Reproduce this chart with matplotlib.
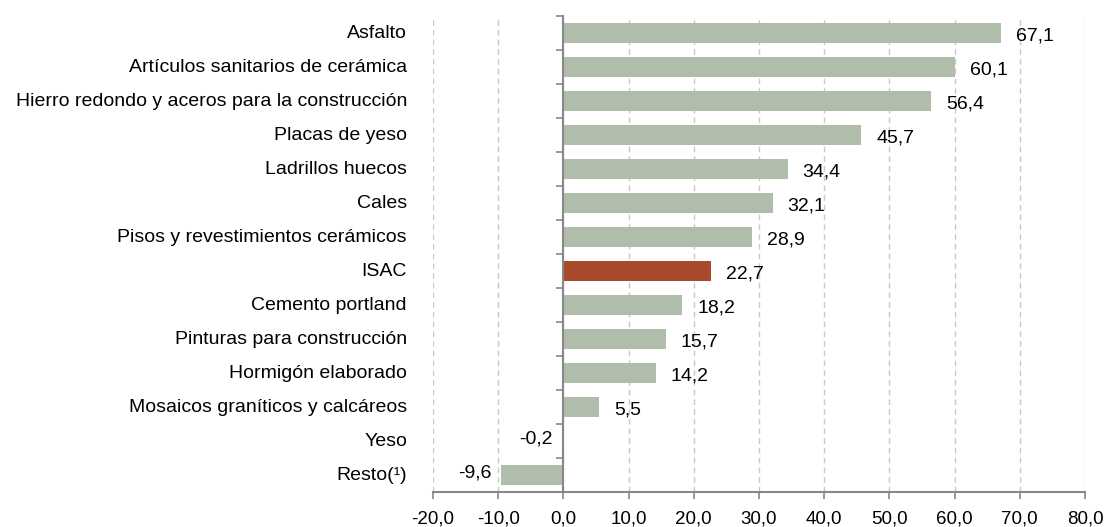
import matplotlib
matplotlib.use("Agg")
import matplotlib.pyplot as plt
from matplotlib.transforms import blended_transform_factory

categories = ["Asfalto", "Artículos sanitarios de cerámica",
              "Hierro redondo y aceros para la construcción", "Placas de yeso",
              "Ladrillos huecos", "Cales", "Pisos y revestimientos cerámicos",
              "ISAC", "Cemento portland", "Pinturas para construcción",
              "Hormigón elaborado", "Mosaicos graníticos y calcáreos", "Yeso",
              "Resto(¹)"]
values = [67.1, 60.1, 56.4, 45.7, 34.4, 32.1, 28.9, 22.7, 18.2, 15.7, 14.2, 5.5, -0.2, -9.6]
xticks = [-20, -10, 0, 10, 20, 30, 40, 50, 60, 70, 80]

plt.rcParams['font.family'] = ['Liberation Sans', 'DejaVu Sans']
fig = plt.figure(figsize=(11.04, 5.27), dpi=100)
ax = fig.add_axes([433/1104, 1-492/527, (1085-433)/1104, (492-16)/527])

n = len(categories)
ypos = list(range(n))
colors = ["#AA4A2C" if c == "ISAC" else "#B0BDAA" for c in categories]
ax.barh(ypos, values, height=0.6, color=colors, zorder=3)
ax.set_ylim(n - 0.5, -0.5)
ax.set_xlim(-20, 80)

ax.set_xticks(xticks)
ax.set_xticklabels([f"{v:.1f}".replace(".", ",") for v in xticks], fontsize=13.5)
ax.xaxis.grid(True, linestyle=(0, (4, 3)), color="#C8C8C8", linewidth=1, zorder=0)
ax.set_yticks([i - 0.5 for i in range(n + 1)])
ax.set_yticklabels([])
ax.tick_params(axis='y', length=5, color="#888888", width=1.2)
ax.tick_params(axis='x', length=5, color="#888888", width=1.2, pad=8)

for s in ["top", "right"]:
    ax.spines[s].set_visible(False)
ax.spines["left"].set_position(("data", 0))
ax.spines["left"].set_color("#888888")
ax.spines["left"].set_linewidth(1.5)
ax.spines["left"].set_zorder(4)
ax.spines["bottom"].set_color("#888888")
ax.spines["bottom"].set_linewidth(1.5)

tr = blended_transform_factory(ax.transAxes, ax.transData)
for i, c in enumerate(categories):
    ax.text(-0.04, i, c, transform=tr, ha="right", va="center", fontsize=14)

for i, v in enumerate(values):
    lab = f"{v:.1f}".replace(".", ",")
    if v >= 0:
        ax.text(v + 2.3, i + 0.08, lab, ha="left", va="center", fontsize=14, zorder=5)
    else:
        ax.text(v - 1.4, i - 0.05, lab, ha="right", va="center", fontsize=14, zorder=5)

fig.savefig("out.png", dpi=100)
